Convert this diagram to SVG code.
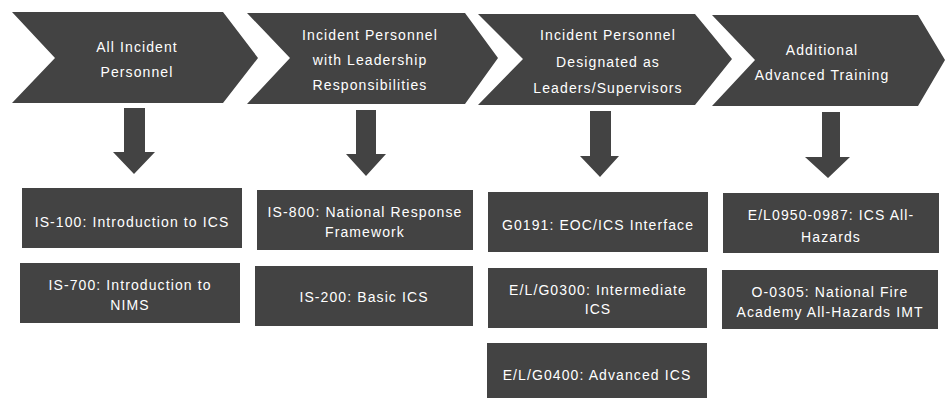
<svg xmlns="http://www.w3.org/2000/svg" width="945" height="398" viewBox="0 0 945 398">
<style>
.shape{fill:#434343;}
.t{fill:#ffffff;font-family:"Liberation Sans",Arial,sans-serif;font-size:14px;letter-spacing:1.1px;text-anchor:middle;}
</style>
<rect x="0" y="0" width="945" height="398" fill="#ffffff"/>
<g id="stage1">
<polygon class="shape" points="12,12 223,12 258,58 223,103 12,103 55,58"/>
<text class="t" x="137" y="52">All Incident</text>
<text class="t" x="137" y="77">Personnel</text>
</g>
<g id="stage2">
<polygon class="shape" points="247,13 465,13 498,58 465,104 247,104 290,58"/>
<text class="t" x="370" y="40">Incident Personnel</text>
<text class="t" x="370" y="65">with Leadership</text>
<text class="t" x="370" y="90">Responsibilities</text>
</g>
<g id="stage3">
<polygon class="shape" points="478,14 695,14 732,59 695,105 478,105 523,59"/>
<text class="t" x="608" y="40">Incident Personnel</text>
<text class="t" x="608" y="67">Designated as</text>
<text class="t" x="608" y="93">Leaders/Supervisors</text>
</g>
<g id="stage4">
<polygon class="shape" points="712,15 918,15 945,60 918,106 712,106 755,60"/>
<text class="t" x="822" y="55">Additional</text>
<text class="t" x="822" y="80">Advanced Training</text>
</g>
<g id="connectors">
<polygon class="shape" points="124,108 145,108 145,152 155,152 134,174 113,152 124,152"/>
<polygon class="shape" points="356,110 376,110 376,154 386,154 366,176 346,154 356,154"/>
<polygon class="shape" points="590,111 611,111 611,156 619,156 600,177 580,156 590,156"/>
<polygon class="shape" points="822,112 840,112 840,157 850,157 828,178 805,157 822,157"/>
</g>
<g id="c1r1"><rect class="shape" x="22" y="188" width="220" height="60"/><text class="t" x="132" y="227">IS-100: Introduction to ICS</text></g>
<g id="c1r2"><rect class="shape" x="20" y="263" width="220" height="60"/><text class="t" x="130" y="290">IS-700: Introduction to</text><text class="t" x="130" y="310">NIMS</text></g>
<g id="c2r1"><rect class="shape" x="257" y="190" width="216" height="60"/><text class="t" x="365" y="217">IS-800: National Response</text><text class="t" x="365" y="237">Framework</text></g>
<g id="c2r2"><rect class="shape" x="255" y="266" width="218" height="60"/><text class="t" x="364" y="302">IS-200: Basic ICS</text></g>
<g id="c3r1"><rect class="shape" x="488" y="192" width="220" height="60"/><text class="t" x="598" y="230">G0191: EOC/ICS Interface</text></g>
<g id="c3r2"><rect class="shape" x="488" y="268" width="219" height="60"/><text class="t" x="598" y="295">E/L/G0300: Intermediate</text><text class="t" x="598" y="314">ICS</text></g>
<g id="c3r3"><rect class="shape" x="487" y="343" width="220" height="60"/><text class="t" x="597" y="380">E/L/G0400: Advanced ICS</text></g>
<g id="c4r1"><rect class="shape" x="723" y="193" width="216" height="60"/><text class="t" x="831" y="220">E/L0950-0987: ICS All-</text><text class="t" x="831" y="242">Hazards</text></g>
<g id="c4r2"><rect class="shape" x="722" y="270" width="216" height="59"/><text class="t" x="830" y="297">O-0305: National Fire</text><text class="t" x="830" y="317">Academy All-Hazards IMT</text></g>
</svg>
